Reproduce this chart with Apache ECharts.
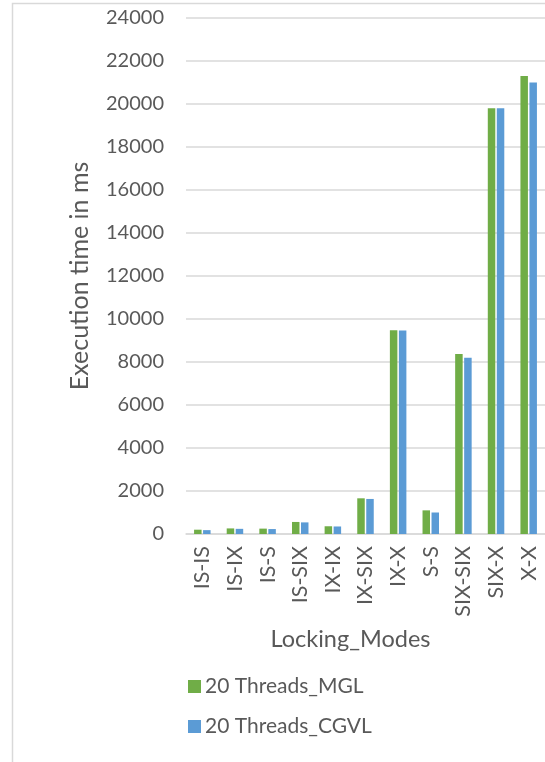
<!DOCTYPE html>
<html>
<head>
<meta charset="utf-8">
<script src="https://cdn.jsdelivr.net/npm/echarts@6/dist/echarts.min.js"></script>
<style>
  html, body { margin: 0; padding: 0; background: #ffffff; }
  #chart { width: 545px; height: 762px; }
</style>
</head>
<body>
<div id="chart"></div>
<script>
// Locking mode pairs on the category axis
const categories = ['IS-IS', 'IS-IX', 'IS-S', 'IS-SIX', 'IX-IX', 'IX-SIX', 'IX-X', 'S-S', 'SIX-SIX', 'SIX-X', 'X-X'];
// Execution time (ms) per locking mode pair
const mglValues  = [200, 260, 250, 560, 360, 1660, 9480, 1100, 8370, 19800, 21300];
const cgvlValues = [180, 240, 230, 540, 350, 1630, 9470, 1000, 8200, 19800, 21000];
// Value axis range
const yMin = 0;
const yMax = 24000;
const yStep = 2000;

const textColor = '#595959';
const lineColor = '#d9d9d9';
const fontFamily = 'Lato, "Open Sans", sans-serif';

const chart = echarts.init(document.getElementById('chart'), null, { renderer: 'canvas' });

chart.setOption({
  animation: false,
  backgroundColor: '#ffffff',
  textStyle: { fontFamily: fontFamily, color: textColor },
  grid: { left: 186, top: 18, width: 366, height: 516, containLabel: false },
  legend: {
    orient: 'vertical',
    left: 183,
    top: 671,
    icon: 'rect',
    itemWidth: 13,
    itemHeight: 13,
    itemGap: 19,
    textStyle: { fontFamily: fontFamily, fontSize: 21, color: textColor, padding: [0, 0, 0, -1] },
    data: ['20 Threads_MGL', '20 Threads_CGVL']
  },
  xAxis: {
    type: 'category',
    data: categories,
    name: 'Locking_Modes',
    nameLocation: 'middle',
    nameGap: 93,
    nameTextStyle: { fontFamily: fontFamily, fontSize: 23.5, color: textColor, padding: [0, 30, 0, 0] },
    axisLine: { show: true, lineStyle: { color: lineColor, width: 1.5 } },
    axisTick: { show: false },
    axisLabel: { rotate: 90, margin: 12, fontFamily: fontFamily, fontSize: 21.5, color: textColor, interval: 0 },
    splitLine: { show: false }
  },
  yAxis: {
    type: 'value',
    min: yMin,
    max: yMax,
    interval: yStep,
    name: 'Execution time in ms',
    nameLocation: 'middle',
    nameGap: 94,
    nameRotate: 90,
    nameTextStyle: { fontFamily: fontFamily, fontSize: 25, color: textColor },
    axisLine: { show: false },
    axisTick: { show: false },
    axisLabel: {
      margin: 22,
      fontFamily: fontFamily,
      fontSize: 20,
      color: textColor,
      formatter: function (v) { return String(v); }
    },
    splitLine: { show: true, lineStyle: { color: lineColor, width: 1.5 } }
  },
  series: [
    {
      name: '20 Threads_MGL',
      type: 'bar',
      data: mglValues,
      barWidth: 7.5,
      barGap: '20%',
      itemStyle: { color: '#70ad47' }
    },
    {
      name: '20 Threads_CGVL',
      type: 'bar',
      data: cgvlValues,
      barWidth: 7.5,
      barGap: '20%',
      itemStyle: { color: '#5b9bd5' }
    }
  ],
  graphic: [
    {
      type: 'polyline',
      silent: true,
      shape: { points: [[12.5, 762], [12.5, 3.5], [545, 3.5]] },
      style: { stroke: lineColor, lineWidth: 1.5, fill: null }
    }
  ]
});
</script>
</body>
</html>
